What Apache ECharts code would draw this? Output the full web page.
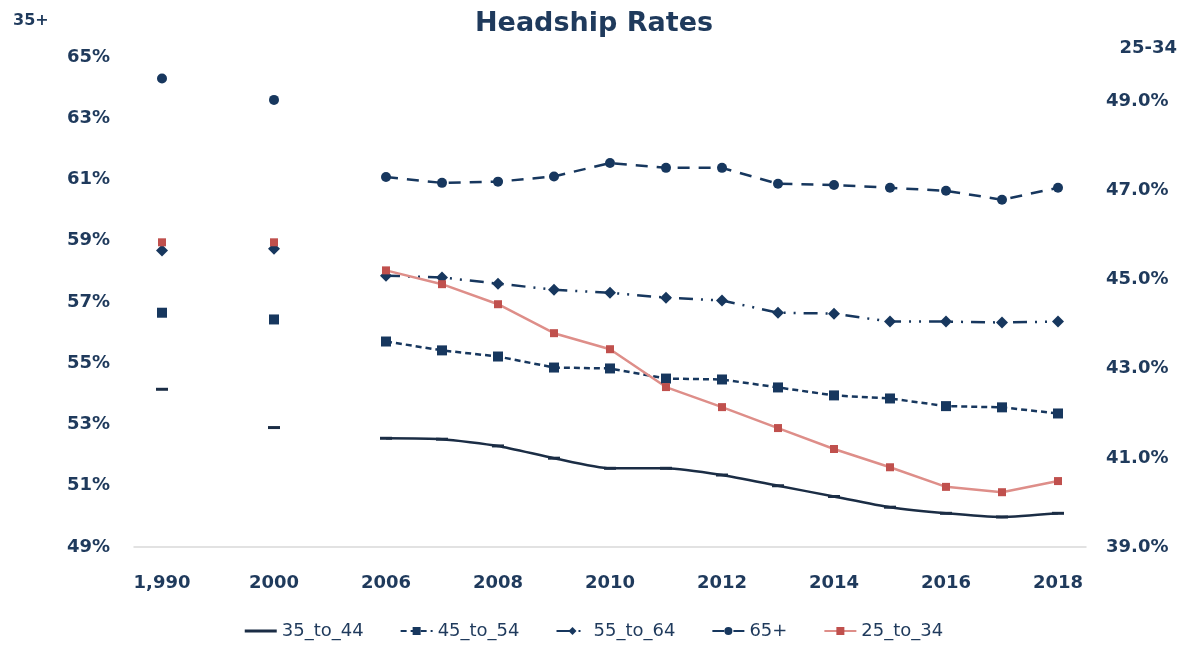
<!DOCTYPE html>
<html>
<head>
<meta charset="utf-8">
<script src="https://cdn.jsdelivr.net/npm/echarts@6/dist/echarts.min.js"></script>
<style>
  html, body { margin: 0; padding: 0; background: #fff; }
  #chart { width: 1188px; height: 666px; }
</style>
</head>
<body>
<div id="chart"></div>
<script>
// x categories, blank slots keep the Excel spacing between 1990, 2000 and 2006
const years = ["1,990", "", "2000", "", "2006", "2007", "2008", "2009", "2010",
  "2011", "2012", "2013", "2014", "2015", "2016", "2017", "2018"];

// left axis (35+), percent
const age35to44 = [54.15, null, 52.9, null, 52.55, 52.52, 52.3, 51.9, 51.57,
  51.57, 51.35, 51.0, 50.65, 50.3, 50.1, 49.98, 50.1];
const age45to54 = [56.65, null, 56.43, null, 55.71, 55.42, 55.22, 54.86, 54.83,
  54.5, 54.47, 54.21, 53.95, 53.85, 53.6, 53.56, 53.36];
const age55to64 = [58.68, null, 58.74, null, 57.86, 57.8, 57.6, 57.4, 57.3,
  57.14, 57.05, 56.65, 56.62, 56.36, 56.36, 56.33, 56.36];
const age65plus = [64.3, null, 63.6, null, 61.08, 60.89, 60.93, 61.1, 61.54,
  61.38, 61.38, 60.86, 60.82, 60.73, 60.63, 60.34, 60.73];

// right axis (25-34), percent
const age25to34 = [45.84, null, 45.84, null, 45.21, 44.9, 44.45, 43.8, 43.44,
  42.59, 42.14, 41.67, 41.2, 40.79, 40.35, 40.23, 40.48];

const NAVY = "#17375E";
const TEXT = "#1F3A5C";
const FONT = "DejaVu Sans";

const chart = echarts.init(document.getElementById("chart"));

const option = {
  animation: false,
  textStyle: { fontFamily: FONT, color: TEXT },
  title: [
    {
      text: "Headship Rates",
      left: "center",
      top: 5,
      textStyle: { fontFamily: FONT, fontSize: 27, fontWeight: "bold", color: TEXT },
    },
    {
      text: "35+",
      left: 8,
      top: 8,
      textStyle: { fontFamily: FONT, fontSize: 16, fontWeight: "bold", color: TEXT },
    },
    {
      text: "25-34",
      right: 6,
      top: 34,
      textStyle: { fontFamily: FONT, fontSize: 18, fontWeight: "bold", color: TEXT },
    },
  ],
  legend: {
    top: 617,
    left: "center",
    itemWidth: 32,
    itemHeight: 10,
    itemGap: 36,
    textStyle: { fontFamily: FONT, fontSize: 18, color: TEXT },
    data: [
      { name: "35_to_44", icon: "path://M0,0 L32,0 L32,3 L0,3 Z" },
      "45_to_54",
      "55_to_64",
      "65+",
      "25_to_34",
    ],
  },
  grid: { left: 134, right: 102, top: 57, bottom: 119 },
  xAxis: {
    type: "category",
    data: years,
    boundaryGap: true,
    axisLine: { lineStyle: { color: "#D9D9D9", width: 1.5 } },
    axisTick: { show: false },
    axisLabel: {
      interval: 1,
      margin: 27,
      fontSize: 18,
      fontWeight: "bold",
      color: TEXT,
    },
  },
  yAxis: [
    {
      type: "value",
      min: 49,
      max: 65,
      interval: 2,
      axisLine: { show: false },
      axisTick: { show: false },
      splitLine: { show: false },
      axisLabel: {
        margin: 24,
        fontSize: 18,
        fontWeight: "bold",
        color: TEXT,
        formatter: (v) => `${v}%`,
      },
    },
    {
      type: "value",
      min: 39,
      max: 50,
      interval: 2,
      position: "right",
      axisLine: { show: false },
      axisTick: { show: false },
      splitLine: { show: false },
      axisLabel: {
        margin: 20,
        fontSize: 18,
        fontWeight: "bold",
        color: TEXT,
        formatter: (v) => (v > 49 ? "" : `${v.toFixed(1)}%`),
      },
    },
  ],
  series: [
    {
      name: "35_to_44",
      type: "line",
      data: age35to44,
      smooth: 0.2,
      symbol: "rect",
      symbolSize: [12, 3],
      lineStyle: { color: "#1B2D45", width: 2.5 },
      itemStyle: { color: "#1B2D45" },
    },
    {
      name: "45_to_54",
      type: "line",
      data: age45to54,
      symbol: "rect",
      symbolSize: 10,
      lineStyle: { color: NAVY, width: 2.5, type: [6, 4] },
      itemStyle: { color: NAVY },
    },
    {
      name: "55_to_64",
      type: "line",
      data: age55to64,
      symbol: "diamond",
      symbolSize: 12,
      lineStyle: { color: NAVY, width: 2.5, type: [14, 8, 2, 8, 2, 8] },
      itemStyle: { color: NAVY },
    },
    {
      name: "65+",
      type: "line",
      data: age65plus,
      symbol: "circle",
      symbolSize: 10,
      lineStyle: { color: NAVY, width: 2.5, type: [12, 9] },
      itemStyle: { color: NAVY },
    },
    {
      name: "25_to_34",
      type: "line",
      yAxisIndex: 1,
      data: age25to34,
      symbol: "rect",
      symbolSize: 8,
      lineStyle: { color: "#DE8E89", width: 2.5 },
      itemStyle: { color: "#C0504D" },
    },
  ],
};

chart.setOption(option);
</script>
</body>
</html>
